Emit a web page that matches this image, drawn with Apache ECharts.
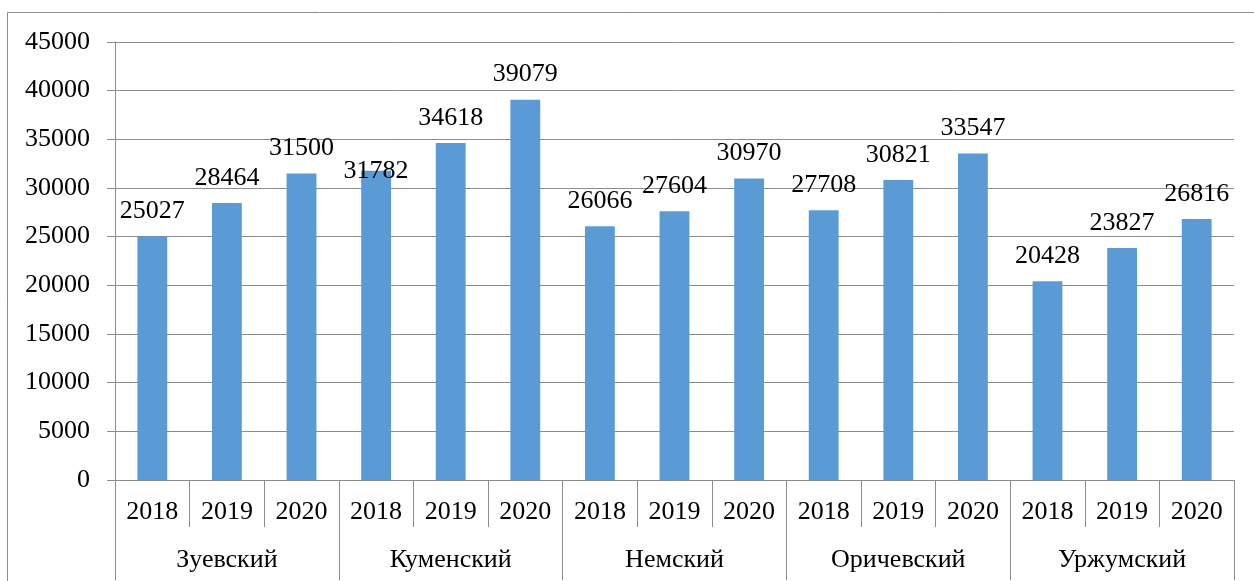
<!DOCTYPE html>
<html>
<head>
<meta charset="utf-8">
<script src="https://cdn.jsdelivr.net/npm/echarts@6/dist/echarts.min.js"></script>
<style>
  html, body { margin: 0; padding: 0; background: #fff; }
  #chart { width: 1254px; height: 581px; }
</style>
</head>
<body>
<div id="chart"></div>
<script>
const districts = ['Зуевский', 'Куменский', 'Немский', 'Оричевский', 'Уржумский']
const years = ['2018', '2019', '2020']
const values = [
  25027, 28464, 31500,
  31782, 34618, 39079,
  26066, 27604, 30970,
  27708, 30821, 33547,
  20428, 23827, 26816
]
const yTicks = [0, 45000, 5000] // min, max, step

const font = "'Liberation Serif', 'Times New Roman', serif"
const gray = '#8c8c8c'

// one year label per bar
const yearLabels = []
districts.forEach(() => years.forEach(y => yearLabels.push(y)))

// in the original the 31782 label sits lower, next to its bar top
const barData = values.map((v, i) =>
  i === 3 ? { value: v, label: { offset: [0, 26] } } : v
)

const chart = echarts.init(document.getElementById('chart'))

chart.setOption({
  animation: false,
  graphic: [{
    type: 'rect',
    shape: { x: 7.5, y: 12.5, width: 1300, height: 700 },
    style: { fill: 'none', stroke: gray, lineWidth: 1 },
    silent: true
  }],
  grid: {
    left: 115,
    right: 20,
    top: 42,
    bottom: 101
  },
  xAxis: [{
    type: 'category',
    data: yearLabels,
    axisLine: { show: true, lineStyle: { color: gray } },
    axisTick: { show: true, interval: 0, length: 47, lineStyle: { color: gray } },
    axisLabel: {
      interval: 0,
      margin: 19,
      color: '#000',
      fontFamily: font,
      fontSize: 26
    }
  }, {
    type: 'category',
    data: districts,
    position: 'bottom',
    axisLine: { show: false },
    axisTick: { show: true, interval: 0, length: 100, lineStyle: { color: gray } },
    axisLabel: {
      interval: 0,
      margin: 67,
      color: '#000',
      fontFamily: font,
      fontSize: 26
    }
  }],
  yAxis: {
    type: 'value',
    min: yTicks[0],
    max: yTicks[1],
    interval: yTicks[2],
    axisLine: { show: true, lineStyle: { color: gray } },
    axisTick: { show: true, length: 8, lineStyle: { color: gray } },
    splitLine: { lineStyle: { color: gray } },
    axisLabel: {
      margin: 25,
      color: '#000',
      fontFamily: font,
      fontSize: 26,
      formatter: v => String(v)
    }
  },
  series: [{
    type: 'bar',
    xAxisIndex: 0,
    data: barData,
    barWidth: '40%',
    itemStyle: { color: '#5b9bd5' },
    label: {
      show: true,
      position: 'top',
      distance: 12,
      color: '#000',
      fontFamily: font,
      fontSize: 26
    }
  }]
})
</script>
</body>
</html>
